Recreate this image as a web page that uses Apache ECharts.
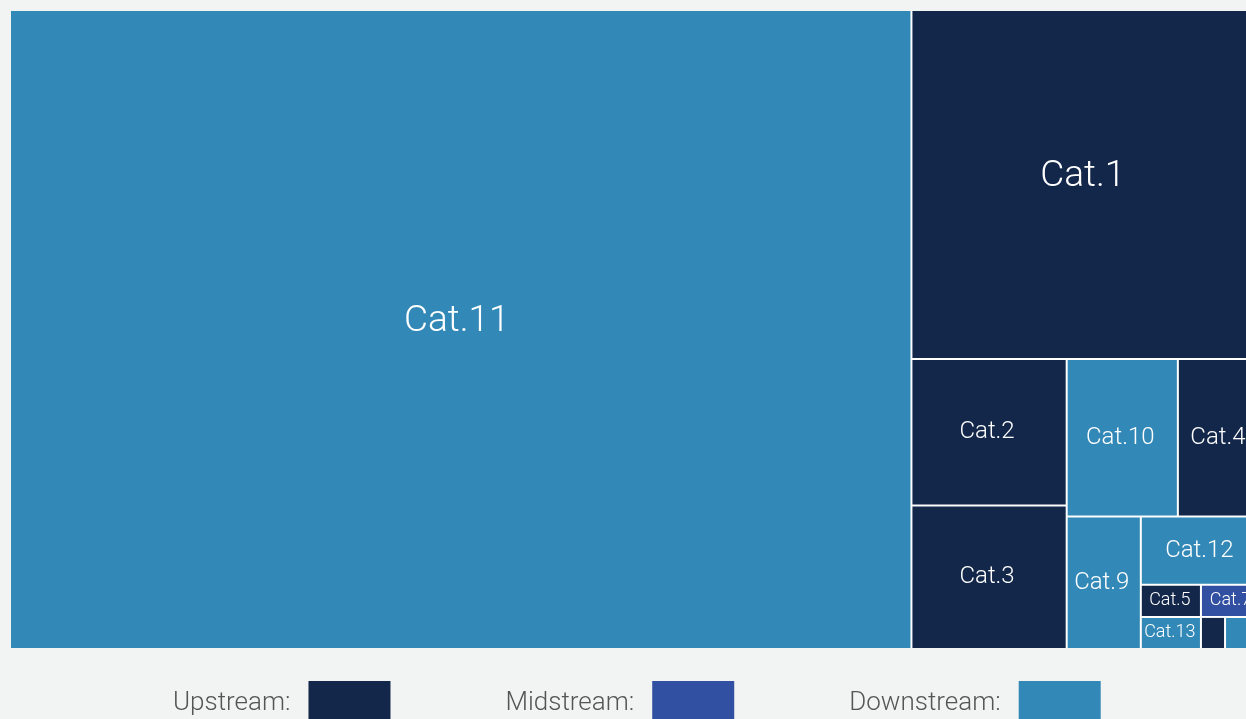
<!DOCTYPE html>
<html lang="en">
<head>
    <meta charset="UTF-8">
    <title>Treemap by stream</title>
    <script src="https://cdn.jsdelivr.net/npm/echarts@6/dist/echarts.min.js"></script>
    <style>
        html, body { margin: 0; padding: 0; overflow: hidden; background: #f2f4f4; }
    </style>
</head>
<body>
<div id="main" style="width: 1272px;height:730px;"></div>
<script>
    // data (relative sizes of the cells)
    var categories = ['Cat.11', 'Cat.1', 'Cat.2', 'Cat.3', 'Cat.10', 'Cat.4', 'Cat.9', 'Cat.12', 'Cat.5', 'Cat.13', 'Cat.7', 'Cat.6', 'Cat.8'];
    var values = [573.3, 121.8, 22.63, 22.17, 17.43, 13.19, 9.77, 8.23, 1.92, 1.92, 1.95, 0.77, 1.18];
    var streams = ['Downstream', 'Upstream', 'Upstream', 'Upstream', 'Downstream', 'Upstream', 'Downstream', 'Downstream', 'Upstream', 'Downstream', 'Midstream', 'Upstream', 'Downstream'];
    var streamNames = ['Upstream', 'Midstream', 'Downstream'];

    var colors = {Upstream: '#13274a', Midstream: '#3150a2', Downstream: '#3288b6'};

    var myChart = echarts.init(document.getElementById('main'));

    // label size follows the size of the cell
    function labelStyle(v) {
        if (v > 100) return {fontSize: 37, offset: [-4, -8]};
        if (v > 5) return {fontSize: 24, offset: [-2, 0]};
        return {fontSize: 18, offset: [-1, 0]};
    }

    var treeData = [];
    for (var i = 0; i < categories.length; i++) {
        var ls = labelStyle(values[i]);
        treeData.push({
            name: categories[i],
            value: values[i],
            itemStyle: {color: colors[streams[i]]},
            label: {fontSize: ls.fontSize, offset: ls.offset, show: values[i] > 1.5}
        });
    }

    // a hidden pie only feeds the legend
    var legendData = [];
    for (var j = 0; j < streamNames.length; j++) {
        legendData.push({name: streamNames[j], value: 1, itemStyle: {color: colors[streamNames[j]]}});
    }

    var option = {
        backgroundColor: '#f2f4f4',
        animation: false,
        legend: {
            left: 168,
            top: 676,
            align: 'right',
            icon: 'rect',
            itemWidth: 82,
            itemHeight: 44,
            itemGap: 115,
            selectedMode: false,
            formatter: '{name}:',
            textStyle: {
                fontFamily: 'Roboto',
                fontWeight: 300,
                fontSize: 26,
                color: '#555',
                padding: [0, 13, 0, 0]
            },
            data: streamNames
        },
        series: [
            {
                type: 'treemap',
                left: 11,
                top: 11,
                right: 11,
                height: 637,
                sort: false,
                squareRatio: 1,
                roam: false,
                nodeClick: false,
                breadcrumb: {show: false},
                label: {
                    show: true,
                    position: 'inside',
                    align: 'center',
                    verticalAlign: 'middle',
                    color: '#fff',
                    fontFamily: 'Roboto',
                    fontWeight: 300,
                    overflow: 'none'
                },
                upperLabel: {show: false},
                levels: [
                    {itemStyle: {borderColor: '#fff', borderWidth: 0, gapWidth: 2}}
                ],
                data: treeData
            },
            {
                type: 'pie',
                silent: true,
                center: [-500, -500],
                radius: 0,
                label: {show: false},
                data: legendData
            }
        ]
    };

    myChart.setOption(option);
</script>
</body>
</html>
